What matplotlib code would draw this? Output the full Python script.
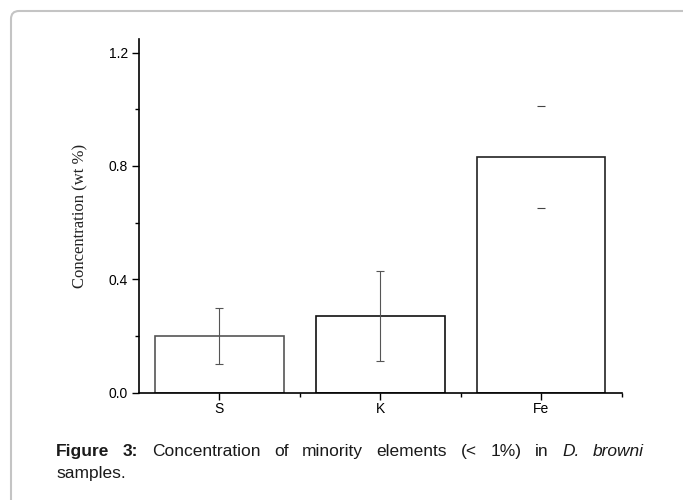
import matplotlib.pyplot as plt
from matplotlib.patches import FancyBboxPatch
from matplotlib.transforms import IdentityTransform

# data
elements = ["S", "K", "Fe"]
conc = [0.20, 0.27, 0.83]
err = [0.10, 0.16, 0.18]

plt.rcParams['font.family'] = ['Liberation Sans', 'DejaVu Sans']

fig = plt.figure(figsize=(6.83, 5), dpi=100)
ax = fig.add_axes([139/683, 107.5/500, (621.5-139)/683, 354/500])

x = [1, 2, 3]
ax.bar(x, conc, width=0.8, color='white',
       edgecolor=['#555555', '#111111', '#222222'], linewidth=1.2, zorder=2)
# S and K: normal error bars, Fe: only caps show
ax.errorbar(x[:2], conc[:2], yerr=err[:2], fmt='none', ecolor='#555555',
            elinewidth=0.8, capsize=3, capthick=0.8, zorder=3)
ax.errorbar(x[2:], conc[2:], yerr=err[2:], fmt='none', ecolor='#444444',
            elinewidth=0, capsize=3, capthick=0.8, zorder=3)

ax.set_xlim(0.5, 3.5)
ax.set_ylim(0, 1.25)
ax.set_xticks(x)
ax.set_xticklabels(elements)
ax.set_xticks([1.5, 2.5, 3.5], minor=True)
ax.set_yticks([0, 0.4, 0.8, 1.2])
ax.set_yticklabels(["0.0", "0.4", "0.8", "1.2"])
ax.set_yticks([0.2, 0.6, 1.0], minor=True)
ax.tick_params(axis='both', which='major', direction='out', length=5,
               width=1, labelsize=10, pad=3)
ax.tick_params(axis='x', which='major', pad=2)
ax.tick_params(axis='both', which='minor', direction='out', length=3, width=1)
for s in ['top', 'right']:
    ax.spines[s].set_visible(False)
for s in ['left', 'bottom']:
    ax.spines[s].set_linewidth(1.2)

ax.set_ylabel("Concentration (wt %)", family=['Liberation Serif', 'DejaVu Serif'],
              fontsize=12, color='#222222')
ax.yaxis.set_label_coords(-51/482.5, 0.5)

# page frame with rounded corner
frame = FancyBboxPatch((11, -30), 720, 519, boxstyle="round,pad=0,rounding_size=8",
                       transform=IdentityTransform(), facecolor='none',
                       edgecolor='#c4c4c4', linewidth=1.5)
fig.patches.append(frame)

# caption, justified first line
words = [("Figure", 'bold', 'normal'), ("3:", 'bold', 'normal'),
         ("Concentration", 'normal', 'normal'), ("of", 'normal', 'normal'),
         ("minority", 'normal', 'normal'), ("elements", 'normal', 'normal'),
         ("(<", 'normal', 'normal'), ("1%)", 'normal', 'normal'),
         ("in", 'normal', 'normal'), ("D.", 'normal', 'italic'),
         ("browni", 'normal', 'italic')]
x0, x1 = 56, 644
y1 = 1 - 456/500
texts = []
for w, wt, st in words:
    t = fig.text(0, y1, w, fontsize=12.5, fontweight=wt, fontstyle=st,
                 va='baseline', ha='left', color='#1a1a1a')
    texts.append(t)
fig.canvas.draw()
r = fig.canvas.get_renderer()
widths = [t.get_window_extent(r).width for t in texts]
gap = (x1 - x0 - sum(widths)) / (len(words) - 1)
pos = x0
for t, w in zip(texts, widths):
    t.set_x(pos / 683)
    pos += w + gap
fig.text(x0/683, 1 - 478/500, "samples.", fontsize=12.5, va='baseline',
         ha='left', color='#1a1a1a')

fig.savefig("out.png", dpi=100)
